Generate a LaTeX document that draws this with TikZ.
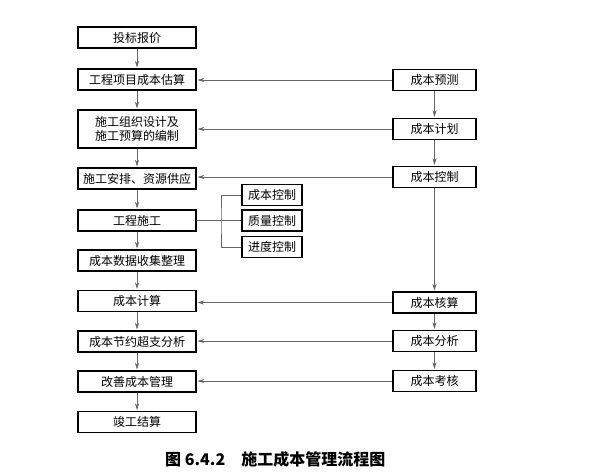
\documentclass[tikz,border=0pt]{standalone}
\usepackage{fontspec}
\setmainfont{Noto Sans CJK SC}
\usetikzlibrary{arrows.meta}

\begin{document}
\begin{tikzpicture}[x=1pt,y=-1pt,
  box/.style={draw,line width=1.1pt,minimum height=21pt,inner sep=0pt,font=\fontsize{12}{14}\selectfont},
  lbox/.style={box,minimum width=118pt},
  rbox/.style={box,minimum width=83pt},
  sbox/.style={box,minimum width=60pt},
  link/.style={draw=black!60,line width=0.7pt},
  arrowline/.style={link,-{Stealth[length=6.5pt,width=4pt,inset=2pt]},shorten >=1pt}]
\useasboundingbox (0,0) rectangle (590,473);
% left column
\node[lbox] (bid) at (137,37.5) {投标报价};
\node[lbox] (est) at (137,79.5) {工程项目成本估算};
\node[lbox,minimum height=38pt,align=center] (plan) at (137,129) {施工组织设计及\\施工预算的编制};
\node[lbox] (supply) at (137,178.5) {施工安排、资源供应};
\node[lbox] (build) at (137,220.5) {工程施工};
\node[lbox] (data) at (137,260.5) {成本数据收集整理};
\node[lbox] (calc) at (137,301) {成本计算};
\node[lbox] (diff) at (137,341.5) {成本节约超支分析};
\node[lbox] (impr) at (137,381.5) {改善成本管理};
\node[lbox] (final) at (137,422) {竣工结算};
% right column
\node[rbox] (fore) at (434.5,80) {成本预测};
\node[rbox] (cplan) at (434.5,129) {成本计划};
\node[rbox] (ctrl) at (434.5,177) {成本控制};
\node[rbox] (acct) at (434.5,302.5) {成本核算};
\node[rbox] (anal) at (434.5,341) {成本分析};
\node[rbox] (exam) at (434.5,381) {成本考核};
% control items
\node[sbox] (sc) at (272,195) {成本控制};
\node[sbox] (sq) at (272,220.5) {质量控制};
\node[sbox] (ss) at (272,247) {进度控制};
\coordinate (fork) at (221,220.5);
% connectors
\foreach \a/\b in {bid/est,est/plan,plan/supply,supply/build,build/data,data/calc,calc/diff,diff/impr,impr/final}
  \draw[arrowline] (\a) -- (\b);
\foreach \a/\b in {fore/cplan,cplan/ctrl,ctrl/acct,acct/anal,anal/exam}
  \draw[arrowline] (\a) -- (\b);
\foreach \a/\b in {fore/est,cplan/plan,ctrl/supply,acct/calc,anal/diff,exam/impr}
  \draw[arrowline] (\a.west) -- (\a.west -| \b.east);
\draw[link] (build.east) -- (sq.west);
\draw[link] (sc.west) -| (fork) |- (ss.west);
% caption
\node[font=\fontsize{16}{18}\selectfont\bfseries,anchor=west,inner sep=0pt] (cap) at (165,459) {图 6.4.2\quad 施工成本管理流程图};
\end{tikzpicture}
\end{document}
